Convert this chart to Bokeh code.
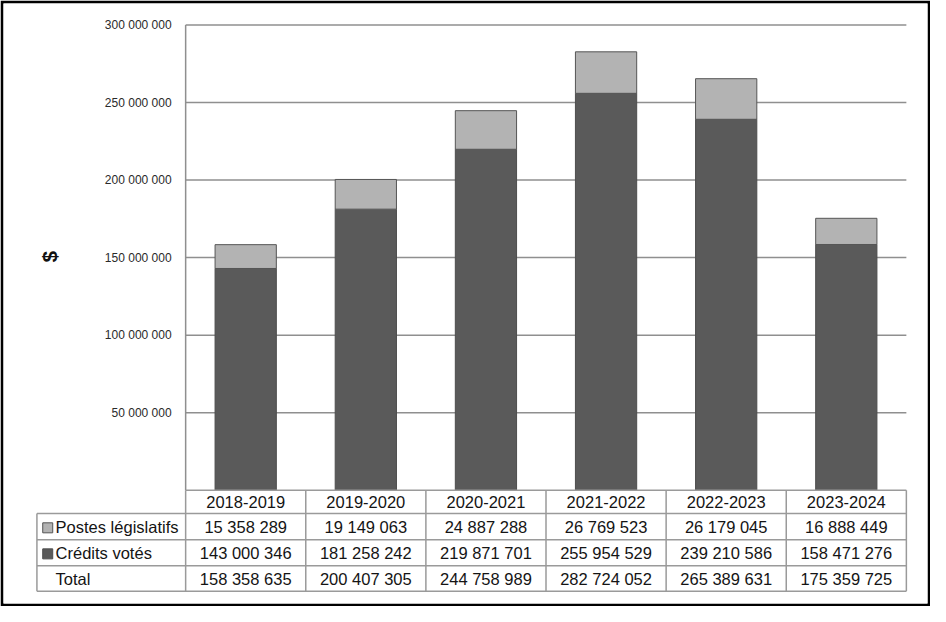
import math
from bokeh.plotting import figure
from bokeh.models import Range1d
from bokeh.core.properties import value
from bokeh.embed import file_html
from bokeh.resources import INLINE

# ---- data ----
years = ["2018-2019", "2019-2020", "2020-2021", "2021-2022", "2022-2023", "2023-2024"]
postes_legislatifs = [15358289, 19149063, 24887288, 26769523, 26179045, 16888449]
credits_votes = [143000346, 181258242, 219871701, 255954529, 239210586, 158471276]
series_names = ["Postes législatifs", "Crédits votés", "Total"]
tick_values = [50000000, 100000000, 150000000, 200000000, 250000000, 300000000]
y_label = "$"

totals = [a + b for a, b in zip(postes_legislatifs, credits_votes)]

def fmt(v):
    return f"{v:,}".replace(",", " ")

# ---- geometry helpers (reference pixel -> data units) ----
COL = 122.2
X0 = 188.3
ZERO_Y = 502.7
PX_PER_50M = 79.6

def cx(X):
    return (X - X0) / COL

def vy(Y):
    return (ZERO_Y - Y) / PX_PER_50M * 50e6

W, H = 930, 606
p = figure(width=W, height=H, output_backend="svg", toolbar_location=None,
           x_range=Range1d(cx(3), cx(943)), y_range=Range1d(vy(619), vy(3)),
           min_border=3, border_fill_color="black", background_fill_color="white",
           outline_line_color=None)
p.axis.visible = False
p.xgrid.visible = False
p.ygrid.visible = False

n = len(years)
xs = [i + 0.5 for i in range(n)]
GRID = "#8f8f8f"
FONT = "Liberation Sans"

# gridlines
p.segment(x0=[0] * len(tick_values), x1=[n] * len(tick_values), y0=tick_values, y1=tick_values,
          line_color=GRID, line_width=1.5)
# vertical axis line
p.segment(x0=[0], x1=[0], y0=[0], y1=[tick_values[-1]], line_color=GRID, line_width=1.5)

# bars
p.vbar(x=xs, bottom=0, top=credits_votes, width=0.51, fill_color="#5a5a5a", line_color="#4d4d4d", line_width=1)
p.vbar(x=xs, bottom=credits_votes, top=totals, width=0.51, fill_color="#b3b3b3", line_color="#555555", line_width=1)

# y tick labels
p.text(x=[cx(174)] * len(tick_values), y=tick_values, text=[fmt(v) for v in tick_values],
       text_align="right", text_baseline="middle", text_font=value(FONT), text_font_size="12px",
       text_color="#2a2a2a")
# y axis label
p.text(x=[cx(50)], y=[vy(263)], text=[y_label], angle=math.pi / 2, text_align="center",
       text_baseline="middle", text_font=value(FONT), text_font_size="21px", text_font_style="bold",
       text_color="#111111")

# ---- table ----
h_top = 0
h_hdr = vy(526.7)
row_b = [vy(553.5), vy(580.2), vy(606.5)]
left = cx(37)
TL = "#9a9a9a"
# horizontal lines
p.segment(x0=[0, left, left, left, left], x1=[n] * 5,
          y0=[h_top, h_hdr] + row_b, y1=[h_top, h_hdr] + row_b, line_color=TL, line_width=1.5)
# vertical lines
p.segment(x0=list(range(n + 1)), x1=list(range(n + 1)), y0=[h_top] * (n + 1), y1=[row_b[-1]] * (n + 1),
          line_color=TL, line_width=1.5)
p.segment(x0=[left], x1=[left], y0=[h_hdr], y1=[row_b[-1]], line_color=TL, line_width=1.5)

TXT = "#141414"
FS = "16.5px"
hdr_c = (h_top + h_hdr) / 2
row_edges = [h_hdr] + row_b
row_c = [(row_edges[i] + row_edges[i + 1]) / 2 for i in range(3)]

p.text(x=xs, y=[hdr_c] * n, text=years, text_align="center", text_baseline="middle",
       text_font=value(FONT), text_font_size=FS, text_color=TXT)
for r, vals in enumerate([postes_legislatifs, credits_votes, totals]):
    p.text(x=xs, y=[row_c[r]] * n, text=[fmt(v) for v in vals], text_align="center",
           text_baseline="middle", text_font=value(FONT), text_font_size=FS, text_color=TXT)

p.text(x=[cx(56)] * 3, y=row_c, text=series_names, text_align="left", text_baseline="middle",
       text_font=value(FONT), text_font_size=FS, text_color=TXT)
# legend keys
p.scatter(x=[cx(48)], y=[row_c[0] + vy(540) - vy(538.8)], marker="square", size=10,
          fill_color="#b3b3b3", line_color="#555555", line_width=1)
p.scatter(x=[cx(48)], y=[row_c[1] + vy(540) - vy(538.8)], marker="square", size=10,
          fill_color="#5a5a5a", line_color="#4d4d4d", line_width=1)

open("out.html", "w").write(file_html(p, INLINE))
